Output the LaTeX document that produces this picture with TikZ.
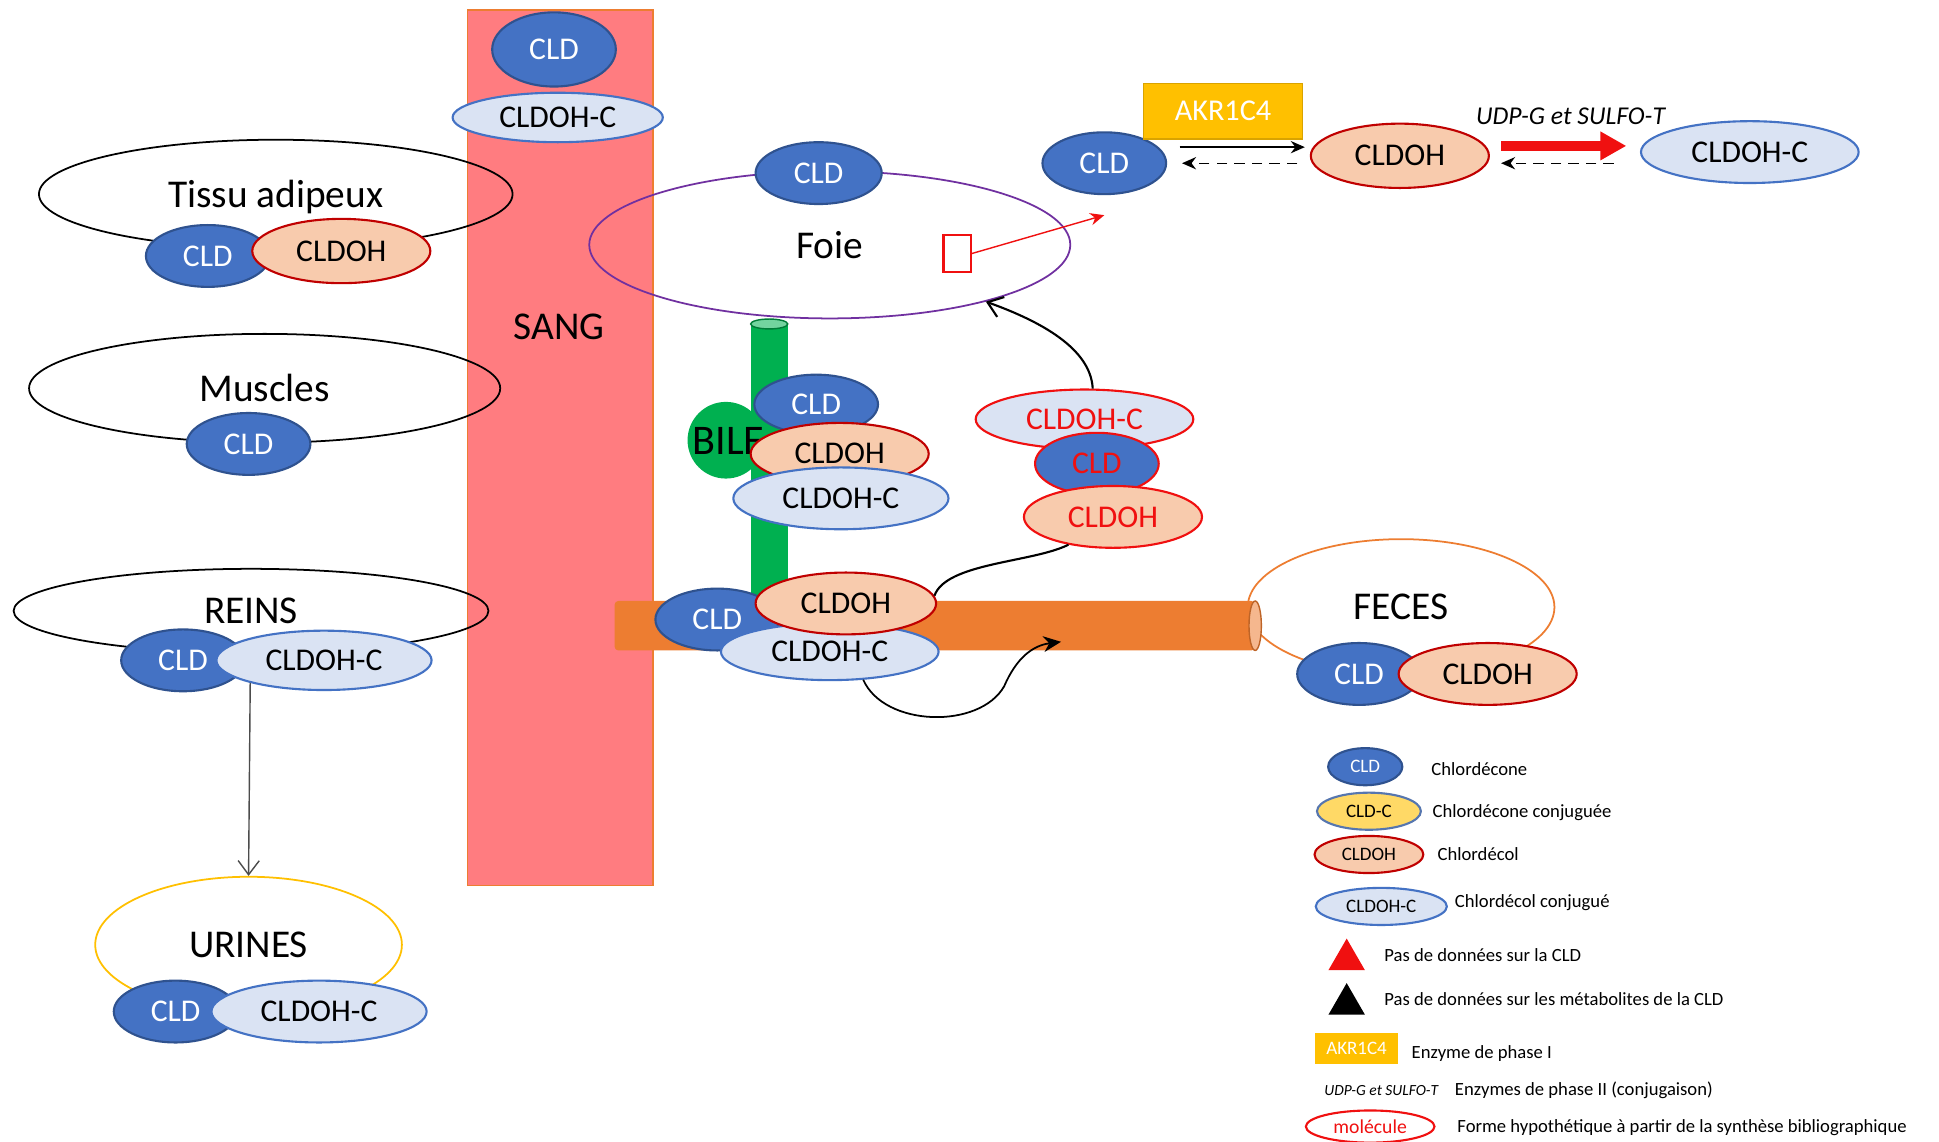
\documentclass[tikz,border=0pt]{standalone}
\usepackage{fontspec}
\setmainfont{Carlito}
\usepackage{xcolor}
\usepackage{tikz}
\usetikzlibrary{positioning, arrows.meta, shapes.geometric, calc}
\definecolor{CldBlue}{HTML}{4472C4}
\definecolor{CldEdge}{HTML}{2F528F}
\definecolor{ConjFill}{HTML}{DAE3F3}
\definecolor{OhFill}{HTML}{F8CBAD}
\definecolor{OhRed}{HTML}{C00000}
\definecolor{HypoRed}{HTML}{F01010}
\definecolor{SangPink}{HTML}{FF7C80}
\definecolor{GutOrange}{HTML}{ED7D31}
\definecolor{BileGreen}{HTML}{00B050}
\definecolor{FoiePurple}{HTML}{7030A0}
\definecolor{AkrGold}{HTML}{FFC000}
\definecolor{CldcYellow}{HTML}{FFD966}
\newlength{\px}
\setlength{\px}{0.012366cm}
\newcommand{\organfont}{\fontsize{11.2}{13}\selectfont}
\newcommand{\molfont}{\fontsize{9}{10}\selectfont}
\newcommand{\legfont}{\fontsize{5.3}{6}\selectfont}
\newcommand{\legmolfont}{\fontsize{5.4}{6}\selectfont}

\begin{document}
\begin{tikzpicture}[x=0.012366cm, y=-0.012366cm, >=Stealth,
    mol/.style={ellipse, inner sep=0pt, line width=0.6pt, minimum height=50\px, font=\molfont},
    cld/.style={mol, fill=CldBlue, draw=CldEdge, text=white, minimum width=100\px},
    cldoh/.style={mol, fill=OhFill, draw=OhRed, minimum width=144\px},
    cldohc/.style={mol, fill=ConjFill, draw=CldBlue, minimum width=174\px},
    hypo/.style={draw=HypoRed, text=HypoRed},
    organ/.style={ellipse, draw, line width=0.5pt, inner sep=0pt, text depth=0pt, font=\organfont},
    leg/.style={anchor=west, font=\legfont, inner sep=0pt},
    barb/.style={-{Straight Barb[length=4pt, width=6pt]}}]
  \fill[white] (0,0) rectangle (1568,923);
  \useasboundingbox (0,0) rectangle (1568,923);

  \node[draw=GutOrange, fill=SangPink, minimum width=150\px, minimum height=708\px, inner sep=0pt] (sang) at (453,362) {};
  \node[font=\organfont] (sanglbl) at (452,264) {SANG};

  \node[organ, minimum width=383\px, minimum height=88\px] (adip) at (223,157) {Tissu adipeux};
  \node[organ, minimum width=381\px, minimum height=88\px] (musc) at (214,314) {Muscles};
  \node[organ, minimum width=384\px, minimum height=68\px] (reins) at (203,494) {REINS};
  \node[organ, draw=AkrGold, minimum width=248\px, minimum height=110\px] (urines) at (201,764) {URINES};
  \node[organ, draw=FoiePurple, minimum width=389\px, minimum height=119\px] (foie) at (671,198) {Foie};
  \node[organ, draw=GutOrange, minimum width=248\px, minimum height=110\px] (feces) at (1133,491) {FECES};

  \fill[BileGreen] (607,262) rectangle (637,490);
  \draw[BileGreen!70!black, fill=BileGreen!55!white] (622,262) ellipse [x radius=15, y radius=4];
  \node[circle, fill=BileGreen, minimum size=62\px, inner sep=0pt] (bilecirc) at (587,356) {};
  \node[font=\fontsize{12}{13}\selectfont] (biletxt) at (589,357) {BILE};

  \fill[GutOrange, rounded corners=3\px] (497,486) rectangle (1015,526);
  \draw[GutOrange!80!black, fill=GutOrange!55!white] (1015,506) ellipse [x radius=5, y radius=20];

  \node[cld, minimum height=60\px] (sangcld) at (448,40) {CLD};
  \node[cldohc, minimum width=170\px, minimum height=40\px] (sangohc) at (451,95) {CLDOH-C};
  \node[cld] (adipcld) at (168,207) {CLD};
  \node[cldoh, minimum height=52\px] (adipoh) at (276,203) {CLDOH};
  \node[cld] (musccld) at (201,359) {CLD};
  \node[cld] (reinscld) at (148,534) {CLD};
  \node[cldohc, minimum height=48\px] (reinsohc) at (262,534) {CLDOH-C};
  \node[cld] (urinescld) at (142,818) {CLD};
  \node[cldohc] (urinesohc) at (258,818) {CLDOH-C};
  \node[cld, minimum width=102\px] (foiecld) at (662,140) {CLD};
  \node[draw=HypoRed, line width=0.7pt, minimum width=22\px, minimum height=30\px, inner sep=0pt] (redbox) at (774,205) {};
  \node[cld, minimum height=48\px] (bilecld) at (660,327) {CLD};
  \node[cldoh] (bileoh) at (679,367) {CLDOH};
  \node[cldohc] (bileohc) at (680,403) {CLDOH-C};
  \node[cld] (gutcld) at (580,501) {CLD};
  \node[cldohc, minimum width=176\px, minimum height=46\px] (gutohc) at (671,527) {CLDOH-C};
  \node[cldoh, minimum width=146\px] (gutoh) at (684,488) {CLDOH};
  \node[cldohc, hypo, minimum width=176\px, minimum height=48\px] (hypoohc) at (877,339) {CLDOH-C};
  \node[cld, hypo] (hypocld) at (887,375) {CLD};
  \node[cldoh, hypo] (hypooh) at (900,418) {CLDOH};
  \node[cld] (fecescld) at (1099,545) {CLD};
  \node[cldoh] (fecesoh) at (1203,545) {CLDOH};

  \node[cld] (metacld) at (893,132) {CLD};
  \node[fill=AkrGold, draw=AkrGold!85!black, text=white, font=\fontsize{8.6}{10}\selectfont, minimum width=129\px, minimum height=45\px, inner sep=0pt] (akr) at (989,90) {AKR1C4};
  \node[cldoh, minimum height=52\px] (metaoh) at (1132,126) {CLDOH};
  \node[cldohc, minimum width=176\px] (metaohc) at (1415,123) {CLDOH-C};
  \node[font=\fontsize{7.3}{9}\selectfont\itshape] (udp) at (1270,94) {UDP-G et SULFO-T};

  \draw[-{Stealth[length=4pt, width=3.5pt]}] ($(metacld.east)+(10,-13)$) -- ($(metaoh.west)+(-4,-7)$);
  \draw[densely dashed, -{Stealth[length=4pt, width=3.5pt]}] ($(metaoh.west)+(-10,6)$) -- ($(metacld.east)+(12,0)$);
  \draw[HypoRed, line width=2.8pt, -{Triangle[length=7.4pt, width=7.7pt]}] ($(metaoh.east)+(9,-8)$) -- ($(metaohc.west)+(-11,-5)$);
  \draw[densely dashed, -{Stealth[length=4pt, width=3.5pt]}] ($(metaohc.west)+(-21,9)$) -- ($(metaoh.east)+(9,6)$);

  \coordinate (metain) at (893,174);
  \draw[HypoRed, -{Stealth[length=4pt, width=3.5pt]}] (redbox.east) -- (metain);
  \draw[black!70, barb] (reinsohc.197) -- (urines.north);
  \draw[line width=0.6pt, barb] (hypoohc.75) .. controls (882,282) and (842,260) .. (foie.-20);
  \draw[line width=0.6pt] (gutoh.5) .. controls (765,455) and (835,455) .. (hypooh.212);
  \coordinate (gutin) at (858,519);
  \draw[line width=0.5pt, -{Stealth[length=5pt, width=4.5pt]}] (gutohc.-40) .. controls (715,588) and (792,590) .. (812,555) .. controls (822,532) and (835,522) .. (gutin);

  \node[cld, minimum width=60\px, minimum height=30\px, font=\legmolfont] (legcld) at (1104,620) {CLD};
  \node[mol, fill=CldcYellow, draw=CldBlue!70!gray, minimum width=84\px, minimum height=30\px, font=\legmolfont] (legcldc) at (1107,656) {CLD-C};
  \node[cldoh, minimum width=88\px, minimum height=30\px, font=\legmolfont] (legoh) at (1107,691) {CLDOH};
  \node[cldohc, minimum width=106\px, minimum height=30\px, font=\legmolfont] (legohc) at (1117,733) {CLDOH-C};
  \node[regular polygon, regular polygon sides=3, fill=HypoRed, minimum size=34\px, inner sep=0pt] (legtrired) at (1089,776) {};
  \node[regular polygon, regular polygon sides=3, fill=black, minimum size=34\px, inner sep=0pt] (legtriblk) at (1089,812) {};
  \node[fill=AkrGold, text=white, font=\legmolfont, minimum width=67\px, minimum height=25\px, inner sep=0pt] (legakr) at (1097,848) {AKR1C4};
  \node[font=\fontsize{4.4}{5}\selectfont\itshape] (legudp) at (1117,882) {UDP-G et SULFO-T};
  \node[mol, draw=HypoRed, fill=white, text=HypoRed, minimum width=104\px, minimum height=26\px, font=\fontsize{5.6}{6}\selectfont] (leghypo) at (1108,911) {molécule};
  \foreach \x/\y/\t [count=\i] in {1157/622/Chlordécone, 1158/657/Chlordécone conjuguée, 1162/691/Chlordécol, 1176/730/Chlordécol conjugué, 1119/772/Pas de données sur la CLD, 1119/808/Pas de données sur les métabolites de la CLD, 1141/852/Enzyme de phase I, 1176/882/{Enzymes de phase II (conjugaison)}, 1178/912/Forme hypothétique à partir de la synthèse bibliographique}
    \node[leg] (legtxt\i) at (\x,\y) {\t};
\end{tikzpicture}
\end{document}
